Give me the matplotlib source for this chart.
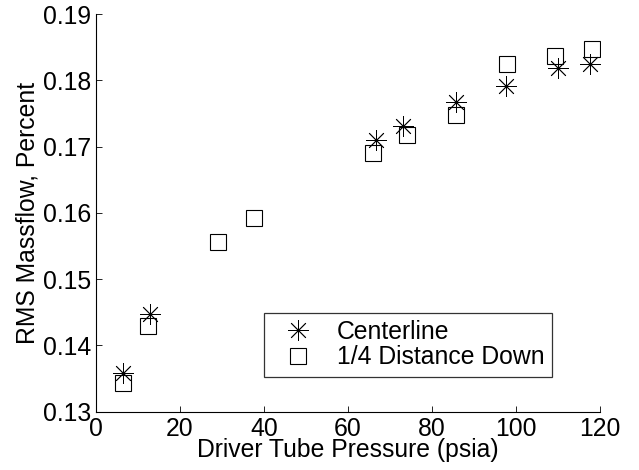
import matplotlib
matplotlib.use("Agg")
import matplotlib.pyplot as plt

plt.rcParams["font.family"] = ["Liberation Sans", "DejaVu Sans"]

# ── data ─────────────────────────────────────────────────────────────────────
center_x = [6.5, 12.9, 66.6, 73.2, 85.7, 97.6, 110.1, 117.6]
center_y = [0.1359, 0.1448, 0.1710, 0.1731, 0.1768, 0.1792, 0.1818, 0.1824]

quarter_x = [6.5, 12.5, 29.0, 37.7, 66.0, 74.1, 85.7, 97.9, 109.3, 118.0]
quarter_y = [0.1343, 0.1429, 0.1556, 0.1592, 0.1690, 0.1717, 0.1747, 0.1824,
             0.1837, 0.1848]

x_ticks = [0, 20, 40, 60, 80, 100, 120]
y_ticks = [0.13, 0.14, 0.15, 0.16, 0.17, 0.18, 0.19]

FS = 17.8

fig = plt.figure(figsize=(6.39, 4.70), dpi=100)
ax = fig.add_axes([0.150, 0.124, 0.789, 0.846])

ax.plot(center_x, center_y, linestyle="none", marker=(8, 2, 0), markersize=15,
        markeredgewidth=0.6, color="black", label="Centerline")
ax.plot(quarter_x, quarter_y, linestyle="none", marker="s", markersize=12,
        markeredgewidth=0.8, markerfacecolor="none", markeredgecolor="black",
        label="1/4 Distance Down")

ax.set_xlim(0, 120)
ax.set_ylim(0.13, 0.19)
ax.set_xticks(x_ticks)
ax.set_yticks(y_ticks)
ax.set_yticklabels([f"{v:.2f}" for v in y_ticks])
ax.tick_params(direction="in", length=4, width=0.6, labelsize=FS, pad=3.5)

ax.spines[["top", "right"]].set_visible(False)
ax.spines[["left", "bottom"]].set_linewidth(0.8)

ax.set_xlabel("Driver Tube Pressure (psia)", fontsize=FS, labelpad=-1.5)
ax.set_ylabel("RMS Massflow, Percent", fontsize=FS, labelpad=2)

leg = ax.legend(loc="lower left", bbox_to_anchor=(0.333, 0.088), fontsize=FS,
                frameon=True, fancybox=False, edgecolor="black",
                borderpad=0.3, handletextpad=0.45, labelspacing=0.05,
                handlelength=2.2, borderaxespad=0)
leg.get_frame().set_linewidth(0.9)

fig.savefig("out.png", dpi=100)
